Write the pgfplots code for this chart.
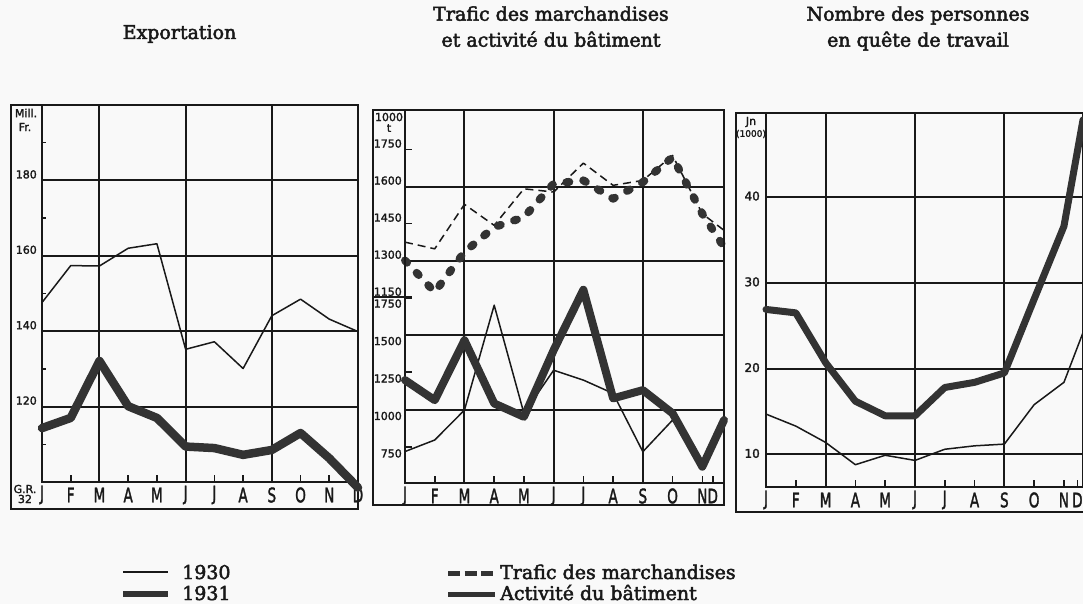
\documentclass[border=0pt]{standalone}
\usepackage{fontspec}
\setmainfont{DejaVu Serif}
\newfontfamily\titlefont[FakeBold=2.5]{DejaVu Serif}
\newfontfamily\hand[FakeBold=2]{DejaVu Sans}
\usepackage{graphicx}
\usepackage{pgfplots}
\pgfplotsset{compat=1.18}
\definecolor{ink}{gray}{0.1}
\definecolor{thickink}{gray}{0.2}
\definecolor{paper}{gray}{0.975}
\newcommand\ml[1]{\scalebox{0.68}[1]{#1}}
\newcommand\tfont{\titlefont\fontsize{19}{22}\selectfont}
\newcommand\sfont{\hand\fontsize{11}{11}\selectfont}

\pgfplotsset{
  panel/.style={
    scale only axis, anchor=south west,
    axis line style={line width=1.9pt, ink},
    xtick={0,...,11},
    xticklabels={{\ml{J}},{\ml{F}},{\ml{M}},{\ml{A}},{\ml{M}},{\ml{J}},{\ml{J}},{\ml{A}},{\ml{S}},{\ml{O}},{\ml{N}},{\ml{D}}},
    x tick label style={font=\hand\fontsize{20}{20}\selectfont, anchor=center, inner sep=0pt, yshift=-13pt, text=ink},
    y tick label style={font=\sfont, inner sep=0pt, text=ink},
    xtick pos=bottom, ytick pos=left,
    tick align=inside,
    major tick length=7pt, minor tick length=4pt,
    every tick/.style={line width=1.6pt, ink},
    extra x ticks={2,5,8},
    extra x tick labels={},
    extra x tick style={grid=major},
    grid style={line width=2pt, ink},
    /pgf/number format/1000 sep={},
    /pgf/number format/assume math mode=true,
    clip=false,
  },
  thin/.style={ink, line width=1.5pt, line join=round},
  thick/.style={thickink, line width=7.5pt, line join=round, line cap=round},
}

\begin{document}
\begin{tikzpicture}
\useasboundingbox (0pt,0pt) rectangle (1083pt,-604pt);
\fill[paper] (0pt,0pt) rectangle (1083pt,-604pt);

% titles
\node[anchor=base, font=\tfont, text=ink] at (179.5pt,-39pt) {Exportation};
\node[anchor=base, font=\tfont, text=ink] at (551pt,-20.7pt) {Trafic des marchandises};
\node[anchor=base, font=\tfont, text=ink] at (551pt,-46.7pt) {et activité du bâtiment};
\node[anchor=base, font=\tfont, text=ink] at (918pt,-20.7pt) {Nombre des personnes};
\node[anchor=base, font=\tfont, text=ink] at (918pt,-46.7pt) {en quête de travail};

% outer frames
\draw[line width=1.9pt, ink] (11pt,-105pt) rectangle (358pt,-509pt);
\draw[line width=1.9pt, ink] (373pt,-110pt) rectangle (724pt,-505pt);
\draw[line width=1.9pt, ink] (736pt,-113pt) rectangle (1095pt,-512pt);
\draw[line width=1.6pt, ink] (373pt,-297pt) -- (412pt,-297pt);

% unit labels
\node[font=\sfont, text=ink] at (26pt,-113pt) {Mill.};
\node[font=\sfont, text=ink] at (25pt,-127pt) {Fr.};
\node[font=\sfont, text=ink] at (25pt,-489pt) {G.R.};
\node[font=\sfont, text=ink] at (25pt,-499pt) {32};
\node[font=\sfont, text=ink] at (389pt,-117pt) {1000};
\node[font=\sfont, text=ink] at (389pt,-128pt) {t};
\node[font=\sfont, text=ink] at (751pt,-122pt) {Jn};
\node[font=\hand\fontsize{9}{9}\selectfont, text=ink] at (751pt,-134pt) {(1000)};

% ---------- Panel 1: Exportation
\begin{axis}[panel, at={(42pt,-482pt)}, width=316pt, height=377pt,
  xmin=0, xmax=11, ymin=100, ymax=200,
  ytick={120,140,160,180}, minor ytick={110,130,150,170,190}, ymajorgrids,
  y tick label style={anchor=base east, xshift=-5pt, yshift=2pt}]
\addplot[thin] coordinates {(0,147.6)(1,157.4)(2,157.3)(3,162)(4,163.2)(5,135.2)(6,137.2)(7,130.1)(8,144.1)(9,148.5)(10,143.2)(11,139.9)};
\addplot[thick, line width=8.5pt] coordinates {(0,114.3)(1,117)(2,132.1)(3,120.1)(4,117)(5,109.4)(6,109)(7,107.2)(8,108.5)(9,113)(10,106.3)(11,98.5)};
\end{axis}

% ---------- Panel 2 upper scale: Trafic des marchandises
\begin{axis}[panel, at={(405pt,-483pt)}, width=319pt, height=373pt,
  xmin=0, xmax=10.73, xtick={0,...,10,10.35},
  ymin=400, ymax=1910,
  ytick={1150,1450,1750}, extra y ticks={1300,1600}, extra y tick style={grid=major},
  y tick label style={anchor=base east, xshift=-3pt, yshift=2pt}]
\addplot[thin, dash pattern=on 8pt off 5pt] coordinates {(0,1375)(1,1348)(2,1528)(3,1443)(4,1591)(5,1578)(6,1695)(7,1605)(8,1625)(9,1726)(10,1490)(10.73,1423)};
\addplot[thick, line width=8pt, dash pattern=on 3pt off 14pt] coordinates {(0,1301)(1,1173)(2,1335)(3,1436)(4,1476)(5,1612)(6,1625)(7,1551)(8,1618)(9,1719)(10,1490)(10.73,1355)};
\end{axis}

% ---------- Panel 2 lower scale: Activité du bâtiment
\begin{axis}[panel, at={(405pt,-483pt)}, width=319pt, height=373pt,
  xmin=0, xmax=10.73, xtick=\empty, extra x ticks={},
  ymin=510, ymax=3000,
  ytick={750,1250,1750}, extra y ticks={1000,1500}, extra y tick style={grid=major},
  y tick label style={anchor=north east, xshift=-3pt, yshift=-2pt}]
\addplot[thin] coordinates {(0,720)(1,797)(2,997)(3,1697)(4,975)(5,1263)(6,1197)(7,1108)(8,719)(9,930)(10,640)(10.73,925)};
\addplot[thick, line width=8pt] coordinates {(0,1197)(1,1063)(2,1463)(3,1041)(4,952)(5,1397)(6,1800)(7,1075)(8,1130)(9,975)(10,619)(10.73,930)};
\end{axis}

% ---------- Panel 3: Nombre des personnes en quête de travail
\begin{axis}[panel, at={(766pt,-487pt)}, width=317pt, height=374pt,
  xmin=0, xmax=10.64, xtick={0,...,10,10.45},
  ymin=6.2, ymax=49.8,
  ytick={10,20,30,40}, ymajorgrids,
  y tick label style={anchor=east, xshift=-6pt, yshift=1pt, font=\hand\fontsize{12}{12}\selectfont}]
\addplot[thin] coordinates {(0,14.7)(1,13.3)(2,11.4)(3,8.8)(4,9.9)(5,9.3)(6,10.6)(7,11.0)(8,11.2)(9,15.8)(10,18.4)(10.64,24.2)};
\addplot[thick, line width=7pt] coordinates {(0,26.9)(1,26.5)(2,20.7)(3,16.2)(4,14.5)(5,14.5)(6,17.8)(7,18.4)(8,19.5)(9,28.1)(10,36.6)(10.64,49)};
\end{axis}

% legend
\draw[ink, line width=1.5pt] (123pt,-572pt) -- (168pt,-572pt);
\node[anchor=base west, font=\tfont, text=ink, inner sep=0pt] at (182pt,-579pt) {1930};
\draw[thickink, line width=6pt] (123pt,-594pt) -- (168pt,-594pt);
\node[anchor=base west, font=\tfont, text=ink, inner sep=0pt] at (182pt,-600pt) {1931};
\draw[thickink, line width=5pt, dash pattern=on 12pt off 4.5pt] (448pt,-573pt) -- (495pt,-573pt);
\node[anchor=base west, font=\tfont, text=ink, inner sep=0pt] at (500pt,-579pt) {Trafic des marchandises};
\draw[thickink, line width=5pt] (448pt,-594pt) -- (495pt,-594pt);
\node[anchor=base west, font=\tfont, text=ink, inner sep=0pt] at (500pt,-600pt) {Activité du bâtiment};
\end{tikzpicture}
\end{document}
